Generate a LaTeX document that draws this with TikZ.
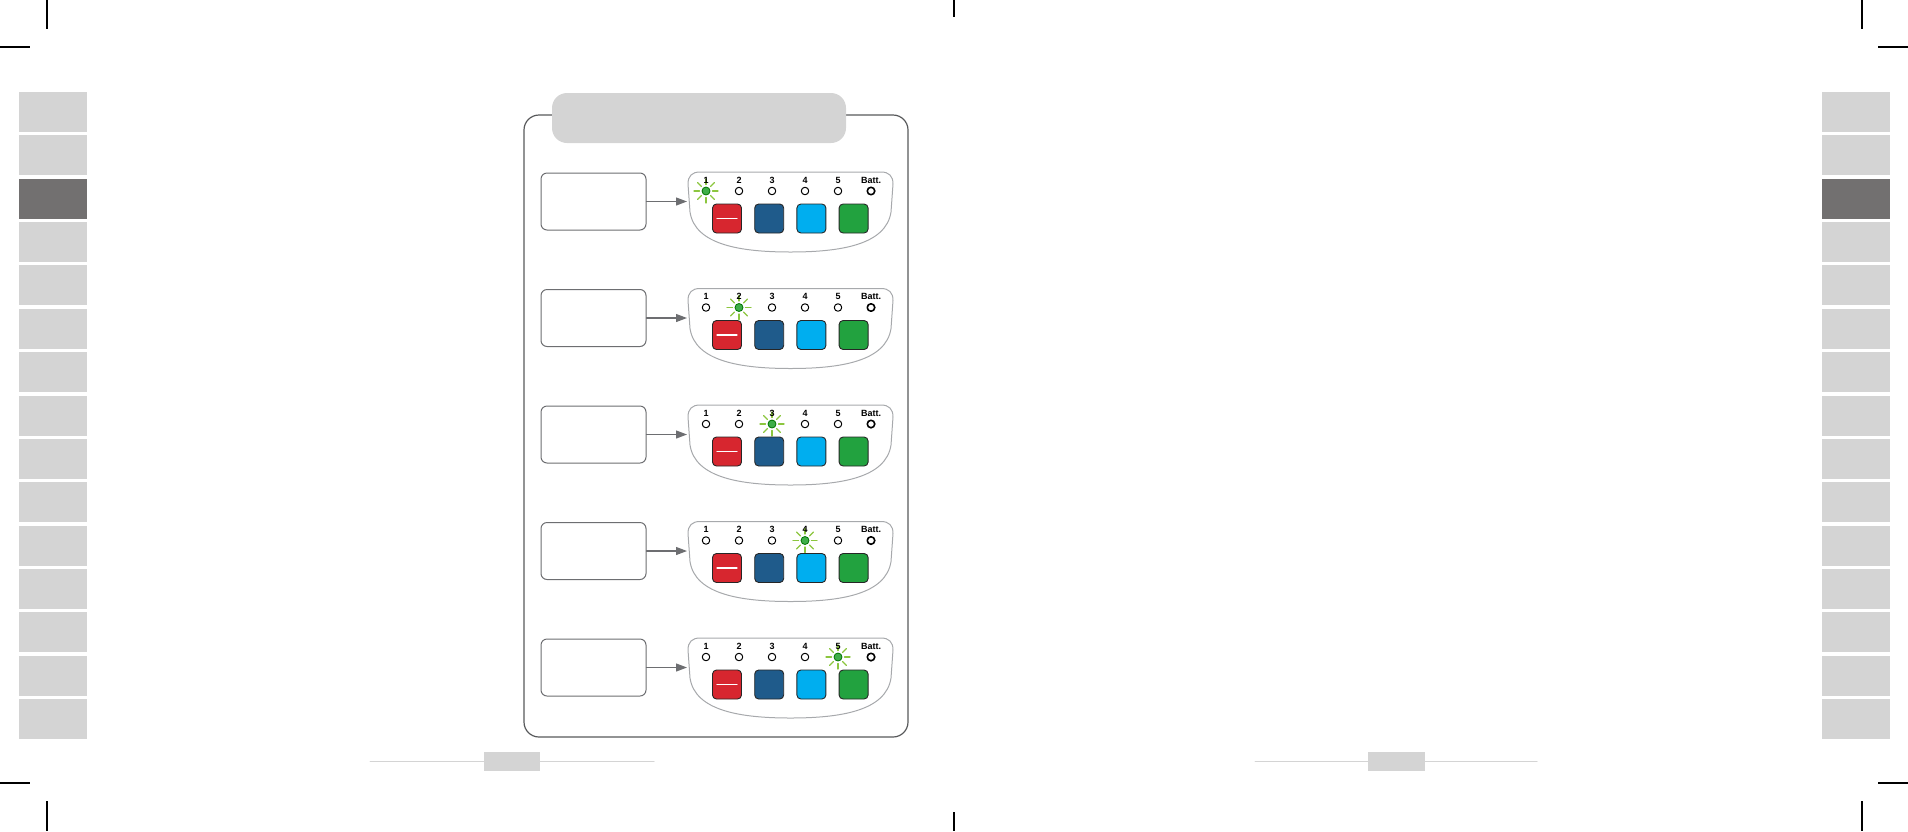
\documentclass[tikz,border=0pt]{standalone}
\usepackage{fontspec}
\setmainfont{Liberation Sans}
\usetikzlibrary{arrows.meta}
\definecolor{tabgray}{HTML}{D4D4D4}
\definecolor{tabdark}{HTML}{727070}
\definecolor{panelline}{HTML}{58595B}
\definecolor{boxline}{HTML}{6D6E71}
\definecolor{devline}{HTML}{A7A9AC}
\definecolor{btnred}{HTML}{D7262F}
\definecolor{btndark}{HTML}{1F5B8B}
\definecolor{btnlight}{HTML}{00AEEF}
\definecolor{btngreen}{HTML}{22A23F}
\definecolor{ledgreen}{HTML}{3FAE49}
\definecolor{raygreen}{HTML}{8CC63F}

\begin{document}
\begin{tikzpicture}[x=1pt, y=-1pt, line join=round, line cap=round,
    >={Triangle[length=11pt,width=8pt]},
    sidetab/.style={fill=tabgray, draw=none, minimum width=68, minimum height=40, inner sep=0},
    panelbox/.style={draw=panelline, line width=1.2, rounded corners=15, minimum width=384, minimum height=622, inner sep=0},
    titletab/.style={fill=tabgray, rounded corners=15, minimum width=294, minimum height=50, inner sep=0},
    infobox/.style={draw=boxline, line width=1, rounded corners=6, fill=white, minimum width=105, minimum height=57, inner sep=0},
    button/.style={draw=black!85, line width=0.9, rounded corners=4, minimum size=29, inner sep=0},
    led/.style={circle, draw=black, line width=1, fill=white, minimum size=7.5, inner sep=0},
    battled/.style={led, line width=1.6},
    litled/.style={circle, draw=green!45!black, line width=0.8, fill=ledgreen, minimum size=8, inner sep=0},
    ray/.style={raygreen, line width=1.3},
    ledlabel/.style={font=\fontsize{9}{10}\selectfont\bfseries, inner sep=0},
    arrowline/.style={boxline, line width=1.2},
    cropmark/.style={black, line width=1.2, line cap=butt},
    footline/.style={tabgray, line width=1}]
    \useasboundingbox (0,0) rectangle (1908,831);

    % crop marks
    \draw[cropmark] (47,0) -- (47,29) (0,47) -- (30,47);
    \draw[cropmark] (1862,0) -- (1862,29) (1878,47) -- (1908,47);
    \draw[cropmark] (954,0) -- (954,17) (954,812) -- (954,831);
    \draw[cropmark] (0,783) -- (30,783) (47,801) -- (47,831);
    \draw[cropmark] (1862,801) -- (1862,831) (1878,783) -- (1908,783);

    % side tabs
    \foreach \k in {0,...,14}{
        \pgfmathsetmacro\ty{112+\k*43.36}
        \ifnum\k=2
            \node[sidetab, fill=tabdark] (ltab\k) at (53,\ty) {};
            \node[sidetab, fill=tabdark] (rtab\k) at (1855.5,\ty) {};
        \else
            \node[sidetab] (ltab\k) at (53,\ty) {};
            \node[sidetab] (rtab\k) at (1855.5,\ty) {};
        \fi
    }

    % page footers
    \draw[footline] (370,761) -- (654,761);
    \fill[tabgray] (484,752) rectangle (540,771);
    \draw[footline] (1255,761) -- (1537,761);
    \fill[tabgray] (1368,752) rectangle (1425,771);

    % panel and title
    \node[panelbox] (panel) at (716,426) {};
    \node[titletab] (title) at (699,118) {};

    \foreach \r in {1,...,5}{
        \begin{scope}[shift={(0,{172+(\r-1)*116.5})}]
            \node[infobox] (box\r) at (593.5,29.5) {};
            \path (687,29.5) coordinate (dev\r);
            \draw[devline, line width=1]
                (700,0) -- (881,0) .. controls (889,0) and (893,4) .. (893,12)
                -- (891,40) .. controls (886,73) and (840,80) .. (790.5,80)
                .. controls (741,80) and (695,73) .. (690,40)
                -- (688,12) .. controls (688,4) and (692,0) .. (700,0) -- cycle;
            \draw[arrowline, ->] (box\r) -- (dev\r);

            \foreach \k/\t in {1/1, 2/2, 3/3, 4/4, 5/5, 6/Batt.}{
                \pgfmathsetmacro\xx{706+(\k-1)*33}
                \ifnum\k=\r
                    \node[litled] (led\r-\k) at (\xx,19) {};
                    \foreach \a in {0,45,...,315}
                        \draw[ray] (led\r-\k) ++(\a:6.5) -- ++(\a:5.5);
                \else
                    \ifnum\k=6
                        \node[battled] (led\r-\k) at (\xx,19) {};
                    \else
                        \node[led] (led\r-\k) at (\xx,19) {};
                    \fi
                \fi
                \node[ledlabel] (lab\r-\k) at (\xx,8) {\t};
            }

            \foreach \c [count=\k] in {btnred,btndark,btnlight,btngreen}
                \node[button, fill=\c] (btn\r-\k) at ({727+(\k-1)*42.2},46.5) {};
            \draw[white, line width=1.3] ([xshift=5pt]btn\r-1.west) -- ([xshift=-5pt]btn\r-1.east);
        \end{scope}
    }
\end{tikzpicture}
\end{document}
